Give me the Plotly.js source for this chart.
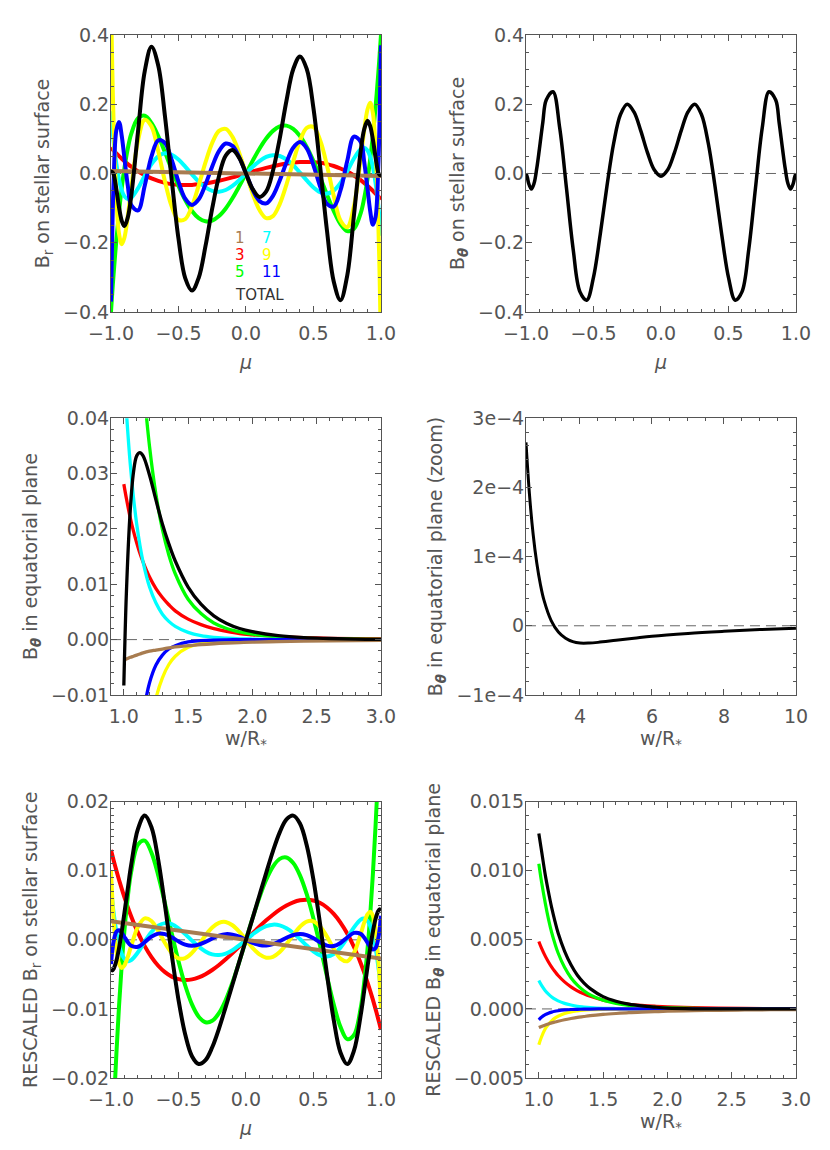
<!DOCTYPE html>
<html>
<head>
<meta charset="utf-8">
<script src="https://cdn.plot.ly/plotly-3.0.1.min.js"></script>
<style>
  html, body { margin: 0; padding: 0; background: #fff; }
  #graphs-div { width: 830px; height: 1150px; }
</style>
</head>
<body>
<div id="graphs-div"></div>
<script>
// MU GRID FOR THE SURFACE PANELS (finer near the poles)
const MU = [-1, -0.99, -0.98, -0.96, -0.94, -0.92, -0.9, -0.875, -0.85, -0.8, -0.75, -0.7, -0.65, -0.6, -0.55, -0.5, -0.45, -0.4, -0.35, -0.3, -0.25, -0.2, -0.15, -0.1, -0.05,
    0, 0.05, 0.1, 0.15, 0.2, 0.25, 0.3, 0.35, 0.4, 0.45, 0.5, 0.55, 0.6, 0.65, 0.7, 0.75, 0.8, 0.85, 0.875, 0.9, 0.92, 0.94, 0.96, 0.98, 0.99, 1];
const MU_DIPOLE = [-1, 1];

// PANEL 1 : B_r on stellar surface, one list per multipole
const BR_L1 = [0.007, -0.007];
const BR_L3 = [0.075, 0.0706, 0.0662, 0.0579, 0.05, 0.0425, 0.0354, 0.0272, 0.0195, 0.006, -0.0053, -0.0144, -0.0216, -0.027, -0.0307, -0.0328, -0.0335, -0.033, -0.0313, -0.0287, -0.0252, -0.021, -0.0162, -0.0111, -0.0056,
    0, 0.0056, 0.0111, 0.0162, 0.021, 0.0252, 0.0287, 0.0313, 0.033, 0.0335, 0.0328, 0.0307, 0.027, 0.0216, 0.0144, 0.0053, -0.006, -0.0195, -0.0272, -0.0354, -0.0425, -0.05, -0.0579, -0.0662, -0.0706, -0.075];
const BR_L5 = [-0.4, -0.3421, -0.2882, -0.1918, -0.1098, -0.0407, 0.0165, 0.0728, 0.1143, 0.1598, 0.1666, 0.1461, 0.1082, 0.0611, 0.0113, -0.0359, -0.0767, -0.1083, -0.129, -0.1382, -0.1359, -0.123, -0.1009, -0.0715, -0.0371,
    0, 0.0371, 0.0715, 0.1009, 0.123, 0.1359, 0.1382, 0.129, 0.1083, 0.0767, 0.0359, -0.0113, -0.0611, -0.1082, -0.1461, -0.1666, -0.1598, -0.1143, -0.0728, -0.0165, 0.0407, 0.1098, 0.1918, 0.2882, 0.3421, 0.4];
const BR_L7 = [0.18, 0.1329, 0.0921, 0.0271, -0.0187, -0.0488, -0.0662, -0.074, -0.0704, -0.0431, -0.0062, 0.027, 0.0493, 0.0581, 0.0541, 0.0402, 0.0199, -0.0026, -0.0237, -0.0403, -0.0504, -0.0528, -0.0477, -0.0359, -0.0192,
    0, 0.0192, 0.0359, 0.0477, 0.0528, 0.0504, 0.0403, 0.0237, 0.0026, -0.0199, -0.0402, -0.0541, -0.0581, -0.0493, -0.027, 0.0062, 0.0431, 0.0704, 0.074, 0.0662, 0.0488, 0.0187, -0.0271, -0.0921, -0.1329, -0.18];
const BR_L9 = [0.5, 0.2986, 0.1402, -0.0711, -0.1749, -0.2041, -0.1848, -0.1223, -0.0437, 0.0939, 0.1552, 0.136, 0.0645, -0.0231, -0.0956, -0.134, -0.1318, -0.0944, -0.0344, 0.0319, 0.0884, 0.123, 0.1288, 0.1057, 0.0593,
    0, -0.0593, -0.1057, -0.1288, -0.123, -0.0884, -0.0319, 0.0344, 0.0944, 0.1318, 0.134, 0.0956, 0.0231, -0.0645, -0.136, -0.1552, -0.0939, 0.0437, 0.1223, 0.1848, 0.2041, 0.1749, 0.0711, -0.1402, -0.2986, -0.5];
const BR_L11 = [-0.37, -0.1628, -0.0197, 0.1253, 0.1483, 0.1079, 0.043, -0.0362, -0.0912, -0.1066, -0.0357, 0.0491, 0.0955, 0.0878, 0.0389, -0.0236, -0.0727, -0.0909, -0.0744, -0.0319, 0.0204, 0.0645, 0.0864, 0.0797, 0.0474,
    0, -0.0474, -0.0797, -0.0864, -0.0645, -0.0204, 0.0319, 0.0744, 0.0909, 0.0727, 0.0236, -0.0389, -0.0878, -0.0955, -0.0491, 0.0357, 0.1066, 0.0912, 0.0362, -0.043, -0.1079, -0.1483, -0.1253, 0.0197, 0.1628, 0.37];
const BR_TOT = [0.005, 0.0041, -0.0025, -0.0459, -0.0985, -0.1368, -0.152, -0.1264, -0.0655, 0.12, 0.295, 0.366, 0.312, 0.165, -0.0181, -0.188, -0.302, -0.338, -0.301, -0.21, -0.1009, -0.0079, 0.0515, 0.0676, 0.0452,
    0, -0.0452, -0.0676, -0.0515, 0.0079, 0.1009, 0.21, 0.301, 0.338, 0.302, 0.188, 0.0181, -0.165, -0.312, -0.366, -0.295, -0.12, 0.0655, 0.1264, 0.152, 0.1368, 0.0985, 0.0459, 0.0025, -0.0041, -0.005];

// PANEL 2 : total B_theta on stellar surface
const BT_TOT = [0, -0.0111, -0.0287, -0.0451, -0.0283, 0.0149, 0.0722, 0.148, 0.212, 0.236, 0.131, -0.0422, -0.22, -0.342, -0.366, -0.3, -0.1759, -0.0363, 0.088, 0.1703, 0.2, 0.1777, 0.1237, 0.0603, 0.0108,
    -0.0077, 0.0108, 0.0603, 0.1237, 0.1777, 0.2, 0.1703, 0.088, -0.0363, -0.1759, -0.3, -0.366, -0.342, -0.22, -0.0422, 0.131, 0.236, 0.212, 0.148, 0.0722, 0.0149, -0.0283, -0.0451, -0.0287, -0.0111, 0];

// PANEL 3 : B_theta in equatorial plane vs w/R*
const W = [1.0, 1.02, 1.05, 1.075, 1.1, 1.125, 1.15, 1.2, 1.25, 1.3, 1.35, 1.4, 1.5, 1.6, 1.7, 1.8, 1.9, 2.0, 2.2, 2.4, 2.6, 2.8, 3.0];
const EQ_L1 = [-0.0037, -0.0035, -0.0032, -0.003, -0.0028, -0.0026, -0.0024, -0.0021, -0.0019, -0.0017, -0.0015, -0.0013, -0.0011, -0.0009, -0.00075, -0.00063, -0.00054, -0.00046, -0.00035, -0.00027, -0.00021, -0.00017, -0.00014];
const EQ_L3 = [0.0281, 0.0255, 0.022, 0.0196, 0.0175, 0.0156, 0.014, 0.0113, 0.0092, 0.0076, 0.0063, 0.0052, 0.0037, 0.0027, 0.002, 0.0015, 0.0011, 0.00088, 0.00055, 0.00035, 0.00024, 0.00016, 0.00012];
const EQ_L5 = [0.125, 0.1088, 0.0888, 0.0754, 0.0642, 0.0548, 0.047, 0.0349, 0.0262, 0.0199, 0.0153, 0.0119, 0.0073, 0.0047, 0.003, 0.002, 0.0014, 0.00098, 0.0005, 0.00027, 0.00016, 0.00009, 0.00006];
const EQ_L7 = [0.0492, 0.0412, 0.0317, 0.0257, 0.0209, 0.0171, 0.014, 0.0095, 0.0066, 0.0046, 0.0033, 0.0024, 0.0013, 0.0007, 0.0004, 0.00025, 0.00015, 0.0001, 0.00004, 0.00002, 0.00001, 0, 0];
const EQ_L9 = [-0.123, -0.099, -0.0719, -0.0555, -0.0431, -0.0337, -0.0264, -0.0166, -0.0106, -0.0069, -0.0045, -0.003, -0.0014, -0.0007, -0.00036, -0.00019, -0.00011, -0.00006, -0.00002, -0.00001, 0, 0, 0];
const EQ_L11 = [-0.0835, -0.0645, -0.0443, -0.0326, -0.0242, -0.0181, -0.0136, -0.0078, -0.0046, -0.0028, -0.0017, -0.0011, -0.0004, -0.00019, -0.00008, -0.00004, -0.00002, -0.00001, 0, 0, 0, 0, 0];
const EQ_TOT = [-0.0083, 0.0085, 0.0234, 0.0302, 0.0332, 0.0338, 0.0332, 0.0297, 0.0252, 0.0209, 0.0173, 0.0142, 0.0095, 0.0064, 0.0043, 0.0029, 0.002, 0.00143, 0.00072, 0.00036, 0.0002, 0.00008, 0.00004];

// PANEL 4 : zoom on the total far from the star
const W_FAR = [2.5, 2.6, 2.7, 2.8, 2.9, 3.0, 3.2, 3.4, 3.6, 3.8, 4.0, 4.25, 4.5, 5, 5.5, 6, 7, 8, 9, 10];
const FAR_TOT = [2.65e-4, 1.88e-4, 1.32e-4, 9.07e-5, 6.0e-5, 3.7e-5, 7.5e-6, -9.0e-6, -1.8e-5, -2.3e-5, -2.5e-5, -2.5e-5, -2.4e-5, -2.1e-5, -1.8e-5, -1.5e-5, -1.1e-5, -8.0e-6, -5.5e-6, -3.6e-6];

// PANEL 5 : rescaled B_r on stellar surface
const RS_L1 = [0.0027, -0.0027];
const RS_L3 = [0.013, 0.01223, 0.01148, 0.01003, 0.00866, 0.00737, 0.00614, 0.00471, 0.00338, 0.00104, -0.00091, -0.0025, -0.00375, -0.00468, -0.00532, -0.00569, -0.00581, -0.00572, -0.00543, -0.00497, -0.00437, -0.00364, -0.00282, -0.00192, -0.00097,
    0, 0.00097, 0.00192, 0.00282, 0.00364, 0.00437, 0.00497, 0.00543, 0.00572, 0.00581, 0.00569, 0.00532, 0.00468, 0.00375, 0.0025, 0.00091, -0.00104, -0.00338, -0.00471, -0.00614, -0.00737, -0.00866, -0.01003, -0.01148, -0.01223, -0.013];
const RS_L5 = [-0.0345, -0.0295, -0.02486, -0.01655, -0.00947, -0.00351, 0.00142, 0.00628, 0.00986, 0.01378, 0.01437, 0.0126, 0.00933, 0.00527, 0.00097, -0.0031, -0.00661, -0.00934, -0.01112, -0.01192, -0.01172, -0.01061, -0.0087, -0.00617, -0.0032,
    0, 0.0032, 0.00617, 0.0087, 0.01061, 0.01172, 0.01192, 0.01112, 0.00934, 0.00661, 0.0031, -0.00097, -0.00527, -0.00933, -0.0126, -0.01437, -0.01378, -0.00986, -0.00628, -0.00142, 0.00351, 0.00947, 0.01655, 0.02486, 0.0295, 0.0345];
const RS_L7 = [0.0075, 0.00554, 0.00384, 0.00113, -0.00078, -0.00203, -0.00276, -0.00308, -0.00293, -0.0018, -0.00026, 0.00113, 0.00205, 0.00242, 0.00226, 0.00167, 0.00083, -0.00011, -0.00099, -0.00168, -0.0021, -0.0022, -0.00199, -0.0015, -0.0008,
    0, 0.0008, 0.0015, 0.00199, 0.0022, 0.0021, 0.00168, 0.00099, 0.00011, -0.00083, -0.00167, -0.00226, -0.00242, -0.00205, -0.00113, 0.00026, 0.0018, 0.00293, 0.00308, 0.00276, 0.00203, 0.00078, -0.00113, -0.00384, -0.00554, -0.0075];
const RS_L9 = [0.01, 0.00597, 0.0028, -0.00142, -0.0035, -0.00408, -0.0037, -0.00245, -0.00087, 0.00188, 0.0031, 0.00272, 0.00129, -0.00046, -0.00191, -0.00268, -0.00264, -0.00189, -0.00069, 0.00064, 0.00177, 0.00246, 0.00258, 0.00211, 0.00119,
    0, -0.00119, -0.00211, -0.00258, -0.00246, -0.00177, -0.00064, 0.00069, 0.00189, 0.00264, 0.00268, 0.00191, 0.00046, -0.00129, -0.00272, -0.0031, -0.00188, 0.00087, 0.00245, 0.0037, 0.00408, 0.0035, 0.00142, -0.0028, -0.00597, -0.01];
const RS_L11 = [-0.0035, -0.00154, -0.00019, 0.00118, 0.0014, 0.00102, 0.00041, -0.00034, -0.00086, -0.00101, -0.00034, 0.00046, 0.0009, 0.00083, 0.00037, -0.00022, -0.00069, -0.00086, -0.0007, -0.0003, 0.00019, 0.00061, 0.00082, 0.00075, 0.00045,
    0, -0.00045, -0.00075, -0.00082, -0.00061, -0.00019, 0.0003, 0.0007, 0.00086, 0.00069, 0.00022, -0.00037, -0.00083, -0.0009, -0.00046, 0.00034, 0.00101, 0.00086, 0.00034, -0.00041, -0.00102, -0.0014, -0.00118, 0.00019, 0.00154, 0.0035];
const RS_TOT = [-0.0042, -0.00443, -0.00418, -0.00304, -0.00115, 0.00125, 0.00394, 0.00748, 0.01088, 0.01605, 0.01799, 0.0163, 0.01158, 0.005, -0.00214, -0.00867, -0.0137, -0.01684, -0.01798, -0.01742, -0.01555, -0.01284, -0.0097, -0.00646, -0.00319,
    0, 0.00319, 0.00646, 0.0097, 0.01284, 0.01555, 0.01742, 0.01798, 0.01684, 0.0137, 0.00867, 0.00214, -0.005, -0.01158, -0.0163, -0.01799, -0.01605, -0.01088, -0.00748, -0.00394, -0.00125, 0.00115, 0.00304, 0.00418, 0.00443, 0.0042];

// PANEL 6 : rescaled B_theta in equatorial plane
const RE_L1 = [-0.00135, -0.00127, -0.00117, -0.00109, -0.00101, -0.00095, -0.00089, -0.00078, -0.00069, -0.00061, -0.00055, -0.00049, -0.0004, -0.00033, -0.00027, -0.00023, -0.0002, -0.00017, -0.00013, -0.0001, -0.00008, -0.00006, -0.00005];
const RE_L3 = [0.00488, 0.00442, 0.00382, 0.0034, 0.00303, 0.00271, 0.00242, 0.00196, 0.0016, 0.00131, 0.00109, 0.00091, 0.00064, 0.00047, 0.00034, 0.00026, 0.0002, 0.00015, 0.00009, 0.00006, 0.00004, 0.00003, 0.00002];
const RE_L5 = [0.0105, 0.00925, 0.00766, 0.0065, 0.00553, 0.00473, 0.00405, 0.00301, 0.00226, 0.00172, 0.00132, 0.00102, 0.00063, 0.0004, 0.00026, 0.00018, 0.00012, 0.00008, 0.00004, 0.00002, 0.00001, 0.00001, 0];
const RE_L7 = [0.00205, 0.00172, 0.00132, 0.00107, 0.00087, 0.00071, 0.00058, 0.0004, 0.00028, 0.00019, 0.00014, 0.0001, 0.00005, 0.00003, 0.00002, 0.00001, 0.00001, 0, 0, 0, 0, 0, 0];
const RE_L9 = [-0.0026, -0.00205, -0.00144, -0.00111, -0.00086, -0.00067, -0.00053, -0.00033, -0.00021, -0.00014, -0.00009, -0.00006, -0.00003, -0.00001, 0, 0, 0, 0, 0, 0, 0, 0, 0];
const RE_L11 = [-0.00079, -0.00061, -0.00042, -0.00031, -0.00023, -0.00017, -0.00013, -0.00007, -0.00004, -0.00003, -0.00002, -0.00001, 0, 0, 0, 0, 0, 0, 0, 0, 0, 0, 0];
const RE_TOT = [0.0127, 0.0115, 0.0097, 0.00846, 0.00733, 0.00636, 0.0055, 0.00419, 0.0032, 0.00244, 0.00189, 0.00147, 0.00089, 0.00056, 0.00035, 0.00022, 0.00013, 0.00006, 0.00001, 0, 0, 0, 0];

// LEGEND LABELS (multipole order) AND COLOURS
const LEGEND_LABELS = ['1', '3', '5', '7', '9', '11', 'TOTAL'];
const COLORS = { '1': '#a87c50', '3': '#ff0000', '5': '#00ff00', '7': '#00ffff', '9': '#ffff00', '11': '#0000ff', 'TOTAL': '#000000' };

const FONT = '"DejaVu Sans", sans-serif';
const GREY = '#555555';

// FUNCTION TO BUILD ONE LINE TRACE
function line(x, y, key, width, xa, ya) {
    return {
        x: x, y: y, xaxis: xa, yaxis: ya,
        mode: 'lines', type: 'scatter', showlegend: false, hoverinfo: 'skip',
        line: { color: COLORS[key], width: width, shape: 'spline', smoothing: 1 }
    };
}

// FUNCTION TO BUILD AN IDL LOOKING AXIS (box, inside ticks, minor ticks)
function axis(domain, anchor, range, dtick, minor, fmt, title, standoff, labelPad) {
    return {
        domain: domain, anchor: anchor, range: range,
        dtick: dtick, tick0: 0, tickformat: fmt,
        showline: true, linecolor: GREY, linewidth: 1, mirror: 'allticks',
        ticks: 'inside', ticklen: 6, tickcolor: GREY, tickwidth: 1,
        minor: { dtick: minor, tick0: 0, ticks: 'inside', ticklen: 3, tickcolor: GREY, tickwidth: 1 },
        showgrid: false, zeroline: false, fixedrange: true,
        ticklabelstandoff: labelPad,
        tickfont: { family: FONT, size: 19, color: GREY },
        title: { text: title, standoff: standoff, font: { family: FONT, size: 19, color: GREY } }
    };
}

// DASHED ZERO LINE IN EVERY PANEL
function zeroLine(xa, ya) {
    return {
        type: 'line', xref: xa + ' domain', x0: 0, x1: 1, yref: ya, y0: 0, y1: 0,
        layer: 'below', line: { color: '#666', width: 1, dash: '10px,6px' }
    };
}

const COL1 = [0.1337, 0.4590];
const COL2 = [0.6337, 0.9590];
const ROW1 = [0.7287, 0.9696];
const ROW2 = [0.3957, 0.6363];
const ROW3 = [0.0626, 0.3029];

const MU_TITLE = '<i>μ</i>';
const W_TITLE = 'w/R<sub>*</sub>';
const THETA = 'B<sub><i><b>θ</b></i></sub>';

var data = [
    // panel 1
    line(MU, BR_L3, '3', 4, 'x', 'y'),
    line(MU, BR_L5, '5', 4, 'x', 'y'),
    line(MU, BR_L7, '7', 4, 'x', 'y'),
    line(MU, BR_L9, '9', 4, 'x', 'y'),
    line(MU, BR_L11, '11', 4, 'x', 'y'),
    line(MU_DIPOLE, BR_L1, '1', 4, 'x', 'y'),
    line(MU, BR_TOT, 'TOTAL', 4, 'x', 'y'),
    // panel 2
    line(MU, BT_TOT, 'TOTAL', 3.5, 'x2', 'y2'),
    // panel 3
    line(W, EQ_L3, '3', 3.3, 'x3', 'y3'),
    line(W, EQ_L5, '5', 3.3, 'x3', 'y3'),
    line(W, EQ_L7, '7', 3.3, 'x3', 'y3'),
    line(W, EQ_L9, '9', 3.3, 'x3', 'y3'),
    line(W, EQ_L11, '11', 3.3, 'x3', 'y3'),
    line(W, EQ_L1, '1', 3.3, 'x3', 'y3'),
    line(W, EQ_TOT, 'TOTAL', 3.3, 'x3', 'y3'),
    // panel 4
    line(W_FAR, FAR_TOT, 'TOTAL', 3, 'x4', 'y4'),
    // panel 5
    line(MU, RS_L3, '3', 4, 'x5', 'y5'),
    line(MU, RS_L5, '5', 4, 'x5', 'y5'),
    line(MU, RS_L7, '7', 4, 'x5', 'y5'),
    line(MU, RS_L9, '9', 4, 'x5', 'y5'),
    line(MU, RS_L11, '11', 4, 'x5', 'y5'),
    line(MU_DIPOLE, RS_L1, '1', 4, 'x5', 'y5'),
    line(MU, RS_TOT, 'TOTAL', 4, 'x5', 'y5'),
    // panel 6
    line(W, RE_L3, '3', 3.2, 'x6', 'y6'),
    line(W, RE_L5, '5', 3.2, 'x6', 'y6'),
    line(W, RE_L7, '7', 3.2, 'x6', 'y6'),
    line(W, RE_L9, '9', 3.2, 'x6', 'y6'),
    line(W, RE_L11, '11', 3.2, 'x6', 'y6'),
    line(W, RE_L1, '1', 3.2, 'x6', 'y6'),
    line(W, RE_TOT, 'TOTAL', 3.2, 'x6', 'y6')
];

// legend text inside panel 1, two columns like the original
const LEGEND_POS = {
    '1': [-0.096, -0.187], '3': [-0.096, -0.236], '5': [-0.096, -0.285],
    '7': [0.107, -0.187], '9': [0.107, -0.236], '11': [0.107, -0.285],
    'TOTAL': [-0.096, -0.352]
};
var annotations = LEGEND_LABELS.map(function (lab) {
    return {
        xref: 'x', yref: 'y', x: LEGEND_POS[lab][0], y: LEGEND_POS[lab][1],
        text: lab, showarrow: false, xanchor: 'left', yanchor: 'middle',
        font: { family: FONT, size: 15, color: lab === 'TOTAL' ? '#333' : COLORS[lab] }
    };
});

var layout = {
    width: 830, height: 1150,
    margin: { l: 0, r: 0, t: 0, b: 0 },
    paper_bgcolor: '#fff', plot_bgcolor: '#fff',
    showlegend: false,
    xaxis: axis(COL1, 'y', [-1, 1], 0.5, 0.1, '.1f', MU_TITLE, 12, 4),
    yaxis: axis(ROW1, 'x', [-0.4, 0.4], 0.2, 0.05, '.1f', 'B<sub>r</sub> on stellar surface', 8, -3),
    xaxis2: axis(COL2, 'y2', [-1, 1], 0.5, 0.1, '.1f', MU_TITLE, 12, 4),
    yaxis2: axis(ROW1, 'x2', [-0.4, 0.4], 0.2, 0.05, '.1f', THETA + ' on stellar surface', 8, -3),
    xaxis3: axis(COL1, 'y3', [0.9, 3.0], 0.5, 0.1, '.1f', W_TITLE, 5, 4),
    yaxis3: axis(ROW2, 'x3', [-0.01, 0.04], 0.01, 0.002, '.2f', THETA + ' in equatorial plane', 8, -3),
    xaxis4: axis(COL2, 'y4', [2.5, 10], 2, 0.5, 'd', W_TITLE, 5, 4),
    yaxis4: Object.assign(axis(ROW2, 'x4', [-1e-4, 3e-4], 1e-4, 2e-5, '', THETA + ' in equatorial plane (zoom)', 8, -3), {
        tickmode: 'array',
        tickvals: [-1e-4, 0, 1e-4, 2e-4, 3e-4],
        ticktext: ['\u22121e\u22124', '0', '1e\u22124', '2e\u22124', '3e\u22124']
    }),
    xaxis5: axis(COL1, 'y5', [-1, 1], 0.5, 0.1, '.1f', MU_TITLE, 12, 4),
    yaxis5: axis(ROW3, 'x5', [-0.02, 0.02], 0.01, 0.001, '.2f', 'RESCALED B<sub>r</sub> on stellar surface', 8, -3),
    xaxis6: axis(COL2, 'y6', [0.9, 3.0], 0.5, 0.1, '.1f', W_TITLE, 5, 4),
    yaxis6: axis(ROW3, 'x6', [-0.005, 0.015], 0.005, 0.001, '.3f', 'RESCALED ' + THETA + ' in equatorial plane', 8, -3),
    shapes: [
        zeroLine('x', 'y'), zeroLine('x2', 'y2'), zeroLine('x3', 'y3'),
        zeroLine('x4', 'y4'), zeroLine('x5', 'y5'), zeroLine('x6', 'y6')
    ],
    annotations: annotations
};

Plotly.newPlot('graphs-div', data, layout, { staticPlot: true });
</script>
</body>
</html>
